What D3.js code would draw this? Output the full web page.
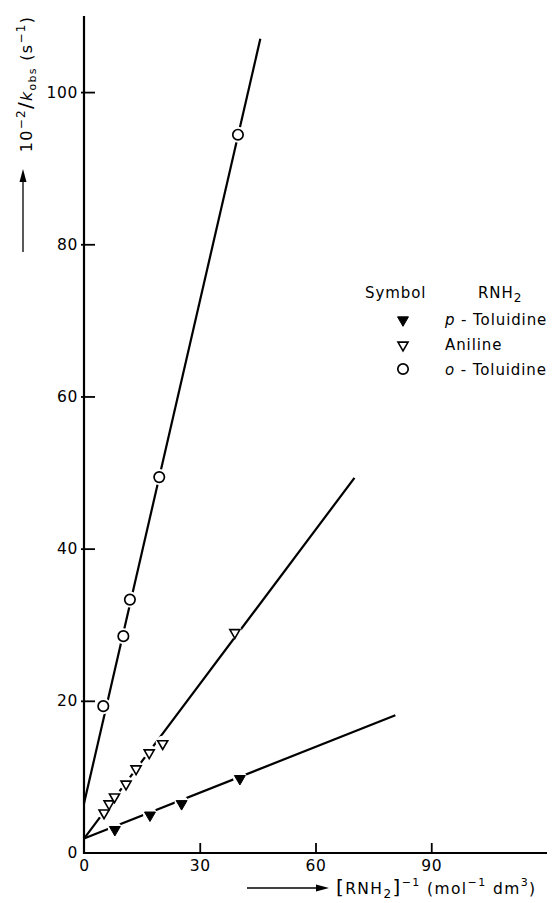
<!DOCTYPE html>
<html>
<head>
<meta charset="utf-8">
<style>
  body { margin: 0; background: #fff; }
  svg { display: block; }
  text { font-family: "DejaVu Sans", sans-serif; fill: #000; }
</style>
</head>
<body>
<svg id="chart" width="560" height="903"></svg>

<script src="https://d3js.org/d3.v7.min.js"></script>
<script>
    // values
    var xTicks = [0, 30, 60, 90]
    var yTicks = [0, 20, 40, 60, 80, 100]

    var pTolX = [8.0, 17.1, 25.3, 40.4]
    var pTolY = [3.2, 5.1, 6.6, 9.9]

    var anilX = [5.2, 6.5, 7.9, 10.9, 13.5, 16.9, 20.4, 39.1]
    var anilY = [5.4, 6.6, 7.5, 9.2, 11.2, 13.3, 14.5, 29.1]

    var oTolX = [5.0, 10.2, 11.9, 19.5, 39.9]
    var oTolY = [19.3, 28.5, 33.3, 49.4, 94.4]

    // fitted straight lines: [start, end] as [x, y]
    var pTolFit = [[0, 1.9], [80.7, 18.1]]
    var anilFit = [[0, 1.9], [70.1, 49.3]]
    var oTolFit = [[0, 6.5], [45.7, 107]]

    var legendNames = ["p", "Aniline", "o"]

    var svg = d3.select("#chart")

    var x = d3.scaleLinear().domain([0, 120]).range([84, 547])
    var y = d3.scaleLinear().domain([0, 110]).range([853, 16])

    // axes lines
    svg.append("line")
        .attr("x1", x(0)).attr("x2", x(0))
        .attr("y1", y(110)).attr("y2", y(0) + 1)
        .attr("stroke", "#000").attr("stroke-width", 2.2)
    svg.append("line")
        .attr("x1", x(0) - 1).attr("x2", x(120))
        .attr("y1", y(0)).attr("y2", y(0))
        .attr("stroke", "#000").attr("stroke-width", 2.2)

    var yAxis = svg.append("g")
        .attr("transform", "translate(" + (x(0) - 3) + ",0)")
        .call(d3.axisLeft(y).tickValues(yTicks).tickSize(-14).tickPadding(3))
    var xAxis = svg.append("g")
        .attr("transform", "translate(0," + y(0) + ")")
        .call(d3.axisBottom(x).tickValues(xTicks).tickSize(-10).tickPadding(6))

    ;[yAxis, xAxis].forEach(function(a) {
        a.select(".domain").remove()
        a.selectAll(".tick line").attr("stroke", "#000").attr("stroke-width", 1.8)
            .filter(function(d) { return d === 0 }).remove()
        a.selectAll(".tick text").style("font-size", "15.5px").style("letter-spacing", "0.6px")
            .attr("fill", "#000")
    })
    xAxis.selectAll(".tick text").attr("y", 7)

    // fit lines
    ;[pTolFit, anilFit, oTolFit].forEach(function(f) {
        svg.append("line")
            .attr("x1", x(f[0][0])).attr("y1", y(f[0][1]))
            .attr("x2", x(f[1][0])).attr("y2", y(f[1][1]))
            .attr("stroke", "#000").attr("stroke-width", 2.2)
    })

    var tri = d3.symbol().type(d3.symbolTriangle)

    function points(xs, ys) {
        return xs.map(function(v, i) { return {x: v, y: ys[i]} })
    }

    function drawSeries(data, kind) {
        var g = svg.append("g")
        // white halo so lines break at the markers
        g.selectAll(".halo").data(data).enter().append("circle")
            .attr("cx", function(d) { return x(d.x) })
            .attr("cy", function(d) { return y(d.y) })
            .attr("r", kind === "circle" ? 8 : 7)
            .attr("fill", "#fff")
        drawMarker(g, data.map(function(d) { return [x(d.x), y(d.y)] }), kind)
    }

    function drawMarker(g, pos, kind) {
        if (kind === "circle") {
            g.selectAll(".m").data(pos).enter().append("circle")
                .attr("cx", function(d) { return d[0] })
                .attr("cy", function(d) { return d[1] })
                .attr("r", 5.2)
                .attr("fill", "#fff").attr("stroke", "#000").attr("stroke-width", 1.7)
        } else {
            g.selectAll(".m").data(pos).enter().append("path")
                .attr("d", tri.size(kind === "filled" ? 52 : 44)())
                .attr("transform", function(d) { return "translate(" + d[0] + "," + (d[1] + 1) + ") rotate(180)" })
                .attr("fill", kind === "filled" ? "#000" : "#fff")
                .attr("stroke", "#000").attr("stroke-width", kind === "filled" ? 1 : 1.6)
        }
    }

    drawSeries(points(pTolX, pTolY), "filled")
    drawSeries(points(anilX, anilY), "open")
    drawSeries(points(oTolX, oTolY), "circle")

    // legend
    var lg = svg.append("g").style("font-size", "15px").style("letter-spacing", "0.9px")
    lg.append("text").attr("x", 365).attr("y", 298).text("Symbol")
    var rn = lg.append("text").attr("x", 478).attr("y", 298)
    rn.append("tspan").text("RNH")
    rn.append("tspan").attr("dy", 4).style("font-size", "12px").text("2")

    var kinds = ["filled", "open", "circle"]
    var rowY = [320, 345, 370]
    kinds.forEach(function(k, i) {
        drawMarker(lg.append("g"), [[403, rowY[i] - 1]], k)
        var t = lg.append("text").attr("x", 445).attr("y", rowY[i] + 5)
        if (legendNames[i] === "Aniline") {
            t.text("Aniline")
        } else {
            t.append("tspan").style("font-style", "italic").text(legendNames[i])
            t.append("tspan").text(" - Toluidine")
        }
    })

    // y title (rotated) with arrow
    var yt = svg.append("text")
        .attr("transform", "translate(32,84) rotate(-90)")
        .attr("text-anchor", "middle")
        .style("font-size", "16px").style("letter-spacing", "1.3px")
    yt.append("tspan").text("10")
    yt.append("tspan").attr("dy", -7).style("font-size", "12px").text("\u22122")
    yt.append("tspan").attr("dy", 7).style("font-size", "20px").text("/")
    yt.append("tspan").style("font-style", "italic").text("k")
    yt.append("tspan").attr("dy", 4).style("font-size", "11px").text("obs")
    yt.append("tspan").attr("dy", -4).text(" (s")
    yt.append("tspan").attr("dy", -7).style("font-size", "12px").text("\u22121")
    yt.append("tspan").attr("dy", 7).text(")")

    svg.append("line")
        .attr("x1", 23).attr("x2", 23).attr("y1", 252).attr("y2", 180)
        .attr("stroke", "#000").attr("stroke-width", 1.3)
    svg.append("path")
        .attr("d", d3.line()([[23, 169], [19.5, 182], [26.5, 182]]) + "Z")
        .attr("fill", "#000")

    // x title with arrow
    svg.append("line")
        .attr("x1", 247).attr("x2", 318).attr("y1", 888).attr("y2", 888)
        .attr("stroke", "#000").attr("stroke-width", 1.3)
    svg.append("path")
        .attr("d", d3.line()([[329, 888], [316, 884.5], [316, 891.5]]) + "Z")
        .attr("fill", "#000")

    var xt = svg.append("text").attr("x", 336).attr("y", 894)
        .style("font-size", "15.5px").style("letter-spacing", "1.4px")
    xt.append("tspan").style("font-size", "20px").text("[")
    xt.append("tspan").text("RNH")
    xt.append("tspan").attr("dy", 4).style("font-size", "12px").text("2")
    xt.append("tspan").attr("dy", -4).style("font-size", "20px").text("]")
    xt.append("tspan").attr("dy", -8).style("font-size", "11px").text("\u22121")
    xt.append("tspan").attr("dy", 8).text(" (mol")
    xt.append("tspan").attr("dy", -8).style("font-size", "11px").text("\u22121")
    xt.append("tspan").attr("dy", 8).text(" dm")
    xt.append("tspan").attr("dy", -8).style("font-size", "11px").text("3")
    xt.append("tspan").attr("dy", 8).text(")")
</script>
</body>
</html>
